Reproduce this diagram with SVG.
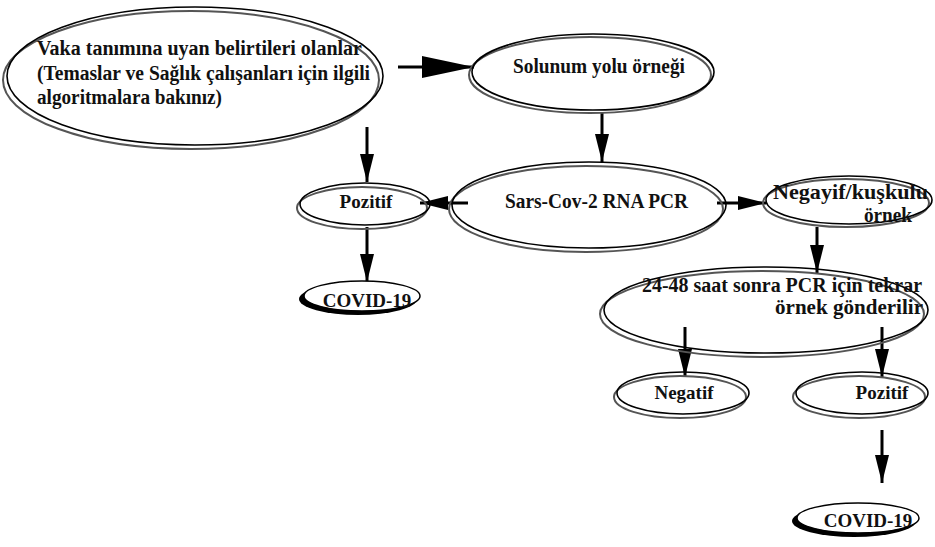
<svg xmlns="http://www.w3.org/2000/svg" width="935" height="547" viewBox="0 0 935 547">
<style>
.bg{fill:#fff}
.n{fill:none;stroke:#000;stroke-width:1.6}
.sh{fill:none;stroke:#555;stroke-width:2}
.cf{fill:#fff;stroke:#000;stroke-width:1.5}
.cs{fill:#000}
text{font-family:"Liberation Serif","Times New Roman",serif;font-weight:bold;font-size:20px;fill:#111}
.S{font-size:19px}
.c{text-anchor:middle}
.a{stroke:#000;stroke-width:3;fill:none}
</style>
<defs>
<marker id="h" markerUnits="userSpaceOnUse" markerWidth="30" markerHeight="14" refX="28" refY="7" orient="auto"><path d="M0,0 L28,7 L0,14 z" fill="#000"/></marker>
<marker id="hb" markerUnits="userSpaceOnUse" markerWidth="54" markerHeight="22" refX="52" refY="11" orient="auto"><path d="M0,0 L52,11 L0,22 z" fill="#000"/></marker>
</defs>
<rect class="bg" width="935" height="547"/>
<g id="connectors">
<line class="a" x1="398" y1="67" x2="474" y2="67" marker-end="url(#hb)"/>
<line class="a" x1="602" y1="112" x2="602" y2="162" marker-end="url(#h)"/>
<line class="a" x1="367" y1="127" x2="367" y2="182" marker-end="url(#h)"/>
<line class="a" x1="468" y1="203" x2="420" y2="203" marker-end="url(#h)"/>
<line class="a" x1="367" y1="227" x2="367" y2="282" marker-end="url(#h)"/>
<line class="a" x1="717" y1="203" x2="766" y2="203" marker-end="url(#h)"/>
<line class="a" x1="817" y1="227" x2="817" y2="273" marker-end="url(#h)"/>
<line class="a" x1="685" y1="327" x2="685" y2="377" marker-end="url(#h)"/>
<line class="a" x1="882" y1="327" x2="882" y2="377" marker-end="url(#h)"/>
<line class="a" x1="882" y1="430" x2="882" y2="483" marker-end="url(#h)"/>
</g>
<g id="vaka">
<ellipse class="sh" cx="191" cy="80" rx="188" ry="69"/>
<ellipse class="n" cx="195" cy="76" rx="188" ry="69"/>
<text x="37" y="55" textLength="325" lengthAdjust="spacingAndGlyphs">Vaka tanımına uyan belirtileri olanlar</text>
<text x="37" y="80" textLength="333" lengthAdjust="spacingAndGlyphs">(Temaslar ve Sağlık çalışanları için ilgili</text>
<text x="37" y="104" textLength="185" lengthAdjust="spacingAndGlyphs">algoritmalara bakınız)</text>
</g>
<g id="solunum">
<ellipse class="sh" cx="590" cy="75" rx="121" ry="38"/>
<ellipse class="n" cx="593" cy="72" rx="121" ry="38"/>
<text x="513" y="73" textLength="172" lengthAdjust="spacingAndGlyphs">Solunum yolu örneği</text>
</g>
<g id="pcr">
<ellipse class="sh" cx="586" cy="209" rx="137" ry="43"/>
<ellipse class="n" cx="589" cy="205" rx="137" ry="43"/>
<text x="505" y="208" textLength="183" lengthAdjust="spacingAndGlyphs">Sars-Cov-2 RNA PCR</text>
</g>
<g id="pozitif1">
<ellipse class="sh" cx="362" cy="208" rx="65" ry="21"/>
<ellipse class="n" cx="365" cy="204" rx="65" ry="21"/>
<text class="c S" x="366" y="208">Pozitif</text>
</g>
<g id="covid1">
<ellipse class="cs" cx="358" cy="299" rx="59" ry="16"/>
<ellipse class="cf" cx="362" cy="296" rx="58" ry="15"/>
<text class="c S" x="367" y="307">COVID-19</text>
</g>
<g id="negayif">
<ellipse class="sh" cx="846" cy="203" rx="83" ry="24"/>
<ellipse class="n" cx="849" cy="200" rx="83" ry="24"/>
<text x="773" y="199" style="font-size:21px" textLength="155" lengthAdjust="spacingAndGlyphs">Negayif/kuşkulu</text>
<text x="864" y="222" style="font-size:21px" textLength="48" lengthAdjust="spacingAndGlyphs">örnek</text>
</g>
<g id="tekrar">
<ellipse class="sh" cx="762" cy="314" rx="162" ry="43"/>
<ellipse class="n" cx="766" cy="310" rx="162" ry="43"/>
<text x="642" y="292" textLength="280" lengthAdjust="spacingAndGlyphs">24-48 saat sonra PCR için tekrar</text>
<text x="775" y="314" style="font-size:21px" textLength="148" lengthAdjust="spacingAndGlyphs">örnek gönderilir</text>
</g>
<g id="negatif">
<ellipse class="sh" cx="680" cy="397" rx="66" ry="21"/>
<ellipse class="n" cx="683" cy="393" rx="66" ry="21"/>
<text class="c S" x="684" y="399">Negatif</text>
</g>
<g id="pozitif2">
<ellipse class="sh" cx="859" cy="397" rx="66" ry="21"/>
<ellipse class="n" cx="862" cy="393" rx="66" ry="21"/>
<text class="c S" x="882" y="399">Pozitif</text>
</g>
<g id="covid2">
<ellipse class="cs" cx="854" cy="521" rx="62" ry="16"/>
<ellipse class="cf" cx="858" cy="518" rx="61" ry="15"/>
<text class="c S" x="868" y="527">COVID-19</text>
</g>
</svg>
